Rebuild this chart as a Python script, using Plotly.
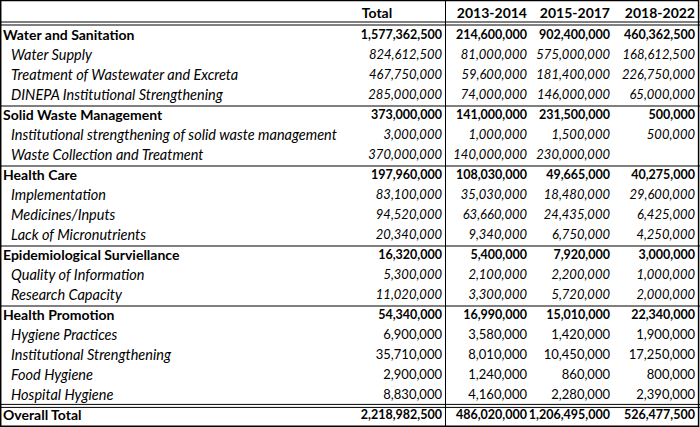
import plotly.graph_objects as go

# ---------------- data ----------------
row_labels = [
    "Water and Sanitation", "Water Supply", "Treatment of Wastewater and Excreta",
    "DINEPA Institutional Strengthening",
    "Solid Waste Management", "Institutional strengthening of solid waste management",
    "Waste Collection and Treatment",
    "Health Care", "Implementation", "Medicines/Inputs", "Lack of Micronutrients",
    "Epidemiological Surviellance", "Quality of Information", "Research Capacity",
    "Health Promotion", "Hygiene Practices", "Institutional Strengthening",
    "Food Hygiene", "Hospital Hygiene",
    "Overall Total",
]
# 0 = category (bold), 1 = sub item (italic), 2 = sub item with upright numbers, 3 = grand total
row_level = [0, 1, 1, 1, 0, 1, 1, 0, 1, 1, 1, 0, 1, 1, 0, 2, 2, 2, 2, 3]

col_headers = ["Total", "2013-2014", "2015-2017", "2018-2022"]

total = [1577362500, 824612500, 467750000, 285000000,
         373000000, 3000000, 370000000,
         197960000, 83100000, 94520000, 20340000,
         16320000, 5300000, 11020000,
         54340000, 6900000, 35710000, 2900000, 8830000,
         2218982500]
p2013_2014 = [214600000, 81000000, 59600000, 74000000,
              141000000, 1000000, 140000000,
              108030000, 35030000, 63660000, 9340000,
              5400000, 2100000, 3300000,
              16990000, 3580000, 8010000, 1240000, 4160000,
              486020000]
p2015_2017 = [902400000, 575000000, 181400000, 146000000,
              231500000, 1500000, 230000000,
              49665000, 18480000, 24435000, 6750000,
              7920000, 2200000, 5720000,
              15010000, 1420000, 10450000, 860000, 2280000,
              1206495000]
p2018_2022 = [460362500, 168612500, 226750000, 65000000,
              500000, 500000, None,
              40275000, 29600000, 6425000, 4250000,
              3000000, 1000000, 2000000,
              22340000, 1900000, 17250000, 800000, 2390000,
              526477500]

# ---------------- layout constants ----------------
W, H = 700, 427
FONT = "Lato, Calibri, Carlito, sans-serif"
FS_NUM = 13
FS_NUM_BOLD = 12.5
FS_LAB = 14
FS_SUB = 14.5
col_right = [442, 527, 610, 695]
header_y = -1.1
rows = list(range(len(row_labels)))
TOP_PX = 36  # pixel centre of first data row
ROW_PX = 20


def fmt_label(t, lvl):
    if lvl in (0, 3):
        return f"<b>{t}</b>"
    return f"<i>{t}</i>"


def fmt_num(v, lvl):
    if v is None:
        return ""
    s = f"{v:,}"
    if lvl in (0, 3):
        return f"<b>{s}</b>"
    if lvl == 1:
        return f"<i>{s}</i>"
    return s


fig = go.Figure()

# labels
label_x = [3 if l in (0, 3) else 11 for l in row_level]
fig.add_trace(go.Scatter(
    x=label_x, y=rows, mode="text",
    text=[fmt_label(t, l) for t, l in zip(row_labels, row_level)],
    textposition="middle right",
    textfont=dict(family=FONT, size=[FS_LAB if l in (0, 3) else FS_SUB for l in row_level],
                  color="#000"),
    hoverinfo="skip", showlegend=False,
))

# value columns
num_sizes = [FS_NUM_BOLD if l in (0, 3) else FS_NUM for l in row_level]
for series, xr in zip([total, p2013_2014, p2015_2017, p2018_2022], col_right):
    fig.add_trace(go.Scatter(
        x=[xr] * len(series), y=rows, mode="text",
        text=[fmt_num(v, l) for v, l in zip(series, row_level)],
        textposition="middle left",
        textfont=dict(family=FONT, size=num_sizes, color="#000"),
        hoverinfo="skip", showlegend=False,
    ))

# headers
fig.add_trace(go.Scatter(
    x=[377], y=[header_y], mode="text", text=[f"<b>{col_headers[0]}</b>"],
    textposition="middle center",
    textfont=dict(family=FONT, size=FS_LAB, color="#000"),
    hoverinfo="skip", showlegend=False,
))
fig.add_trace(go.Scatter(
    x=col_right[1:], y=[header_y] * 3, mode="text",
    text=[f"<b>{h}</b>" for h in col_headers[1:]],
    textposition="middle left",
    textfont=dict(family=FONT, size=FS_LAB, color="#000"),
    hoverinfo="skip", showlegend=False,
))

shapes = []
line = dict(color="#000", width=1)
# outer border
shapes.append(dict(type="rect", xref="paper", yref="paper", x0=0.001, x1=0.998,
                   y0=0.002, y1=0.999, line=dict(color="#000", width=1.5)))
# header double line
for yy in (-0.7, -0.55):
    shapes.append(dict(type="line", xref="paper", yref="y", x0=0, x1=1, y0=yy, y1=yy, line=line))
# group separators
n = len(row_labels)
for i in range(1, n - 1):
    if row_level[i] == 0:
        shapes.append(dict(type="line", xref="paper", yref="y", x0=0, x1=1,
                           y0=i - 0.5, y1=i - 0.5, line=line))
# overall total double line
for yy in (n - 1 - 0.58, n - 1 - 0.43):
    shapes.append(dict(type="line", xref="paper", yref="y", x0=0, x1=1, y0=yy, y1=yy, line=line))
# vertical line between Total and period columns
shapes.append(dict(type="line", xref="x", yref="paper", x0=445.5, x1=445.5, y0=0, y1=1, line=line))

fig.update_layout(
    width=W, height=H,
    margin=dict(l=0, r=0, t=0, b=0),
    paper_bgcolor="white", plot_bgcolor="white",
    xaxis=dict(range=[0, W], visible=False, fixedrange=True),
    yaxis=dict(range=[(H - TOP_PX) / ROW_PX, -TOP_PX / ROW_PX], visible=False, fixedrange=True),
    shapes=shapes,
)

fig.write_html(
    "out.html",
    config={"displayModeBar": False},
    post_script="document.body.style.margin='0';document.body.style.overflow='hidden';",
)
